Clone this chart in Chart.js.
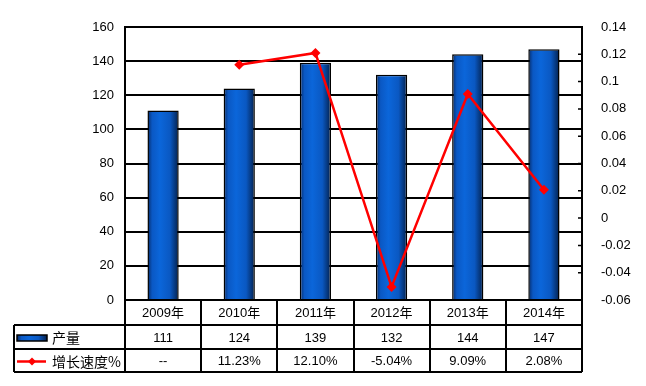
<!DOCTYPE html>
<html>
<head>
<meta charset="utf-8">
<script src="https://cdn.jsdelivr.net/npm/chart.js@4/dist/chart.umd.min.js"></script>
<style>
  html, body { margin: 0; padding: 0; background: #fff; }
  #wrap { width: 646px; height: 386px; }
</style>
</head>
<body>
<div id="wrap"><canvas id="myChart" width="646" height="386"></canvas></div>
<script>
// data
var years = ['2009年', '2010年', '2011年', '2012年', '2013年', '2014年'];
var output = [111, 124, 139, 132, 144, 147];
var growth = [null, 0.1123, 0.1210, -0.0504, 0.0909, 0.0208];
var leftTicks = [0, 20, 40, 60, 80, 100, 120, 140, 160];
var rightTicks = [-0.06, -0.04, -0.02, 0, 0.02, 0.04, 0.06, 0.08, 0.1, 0.12, 0.14];
var seriesNames = ['产量', '增长速度%'];

var numFont = '13px "Liberation Sans", Arial, sans-serif';
var cjkFont = '13px "Liberation Sans", "Noto Sans CJK SC", sans-serif';

function growthText(v) {
    return v === null ? '--' : (v * 100).toFixed(2) + '%';
}

function barGradient(ctx, x0, x1) {
    var g = ctx.createLinearGradient(x0, 0, x1, 0);
    g.addColorStop(0, '#062a66');
    g.addColorStop(0.15, '#0a58c4');
    g.addColorStop(0.4, '#0b66da');
    g.addColorStop(0.72, '#0a58c2');
    g.addColorStop(1, '#03204c');
    return g;
}

// draws the data table under the plot
var tablePlugin = {
    id: 'dataTable',
    afterDraw: function (chart) {
        var ctx = chart.ctx;
        var area = chart.chartArea;
        var n = years.length;
        var colW = (area.right - area.left) / n;
        var rowTop = [area.bottom, 325, 349, 372];
        var labelLeft = 14;

        ctx.save();
        ctx.strokeStyle = '#000';
        ctx.lineWidth = 2;

        // horizontal lines
        ctx.beginPath();
        ctx.moveTo(area.left, rowTop[0]); ctx.lineTo(area.right, rowTop[0]);
        for (var r = 1; r < rowTop.length; r++) {
            ctx.moveTo(labelLeft, rowTop[r]); ctx.lineTo(area.right, rowTop[r]);
        }
        // vertical lines
        for (var c = 0; c <= n; c++) {
            var x = Math.round(area.left + c * colW);
            ctx.moveTo(x, rowTop[0]); ctx.lineTo(x, rowTop[3]);
        }
        ctx.moveTo(labelLeft, rowTop[1]); ctx.lineTo(labelLeft, rowTop[3]);
        ctx.stroke();

        // right axis inner tick marks
        var y1 = chart.scales.y1;
        ctx.lineWidth = 1.5;
        ctx.beginPath();
        y1.ticks.forEach(function (t) {
            var yy = y1.getPixelForValue(t.value);
            ctx.moveTo(area.right - 4, yy); ctx.lineTo(area.right, yy);
        });
        ctx.stroke();

        // cell text
        ctx.fillStyle = '#000';
        ctx.textAlign = 'center';
        ctx.textBaseline = 'middle';
        var xs = chart.scales.x;
        for (var i = 0; i < n; i++) {
            var cx = xs.getPixelForValue(i);
            ctx.font = cjkFont;
            ctx.fillText(years[i], cx, (rowTop[0] + rowTop[1]) / 2 + 1);
            ctx.font = numFont;
            ctx.fillText(String(output[i]), cx, (rowTop[1] + rowTop[2]) / 2 + 1);
            ctx.fillText(growthText(growth[i]), cx, (rowTop[2] + rowTop[3]) / 2 + 1);
        }

        // legend keys in the label column
        var ky = (rowTop[1] + rowTop[2]) / 2 + 1;
        ctx.fillStyle = barGradient(ctx, 17, 47);
        ctx.fillRect(17, ky - 3, 30, 6);
        ctx.lineWidth = 1.5;
        ctx.strokeRect(17, ky - 3, 30, 6);

        var ly = (rowTop[2] + rowTop[3]) / 2 + 1;
        ctx.strokeStyle = '#ff0000';
        ctx.lineWidth = 2.5;
        ctx.beginPath();
        ctx.moveTo(17, ly); ctx.lineTo(46, ly);
        ctx.stroke();
        ctx.fillStyle = '#ff0000';
        ctx.beginPath();
        ctx.moveTo(32, ly - 4); ctx.lineTo(36, ly); ctx.lineTo(32, ly + 4); ctx.lineTo(28, ly);
        ctx.closePath();
        ctx.fill();

        ctx.fillStyle = '#000';
        ctx.textAlign = 'left';
        ctx.font = '14px "Noto Sans CJK SC", sans-serif';
        ctx.fillText(seriesNames[0], 52, ky);
        ctx.fillText(seriesNames[1], 52, ly);
        ctx.restore();
    }
};

window.onload = function () {
    var ctx = document.getElementById('myChart').getContext('2d');
    var myChart = new Chart(ctx, {
        data: {
            labels: years,
            datasets: [{
                type: 'line',
                label: seriesNames[1],
                data: growth,
                yAxisID: 'y1',
                borderColor: '#ff0000',
                backgroundColor: '#ff0000',
                borderWidth: 2.5,
                pointStyle: 'rectRot',
                pointRadius: 5,
                pointBorderWidth: 0,
                tension: 0,
                order: 0
            }, {
                type: 'bar',
                label: seriesNames[0],
                data: output,
                yAxisID: 'y',
                borderColor: '#000',
                borderWidth: 1.5,
                categoryPercentage: 1,
                barPercentage: 0.41,
                backgroundColor: function (c) {
                    var chart = c.chart;
                    if (!chart.chartArea) return '#0b62d2';
                    var xs = chart.scales.x;
                    var cx = xs.getPixelForValue(c.dataIndex);
                    var w = (xs.right - xs.left) / years.length * 0.41;
                    return barGradient(chart.ctx, cx - w / 2, cx + w / 2);
                },
                order: 1
            }]
        },
        options: {
            responsive: false,
            animation: false,
            layout: { padding: { top: 27, bottom: 86, left: 0, right: 0 } },
            plugins: {
                legend: { display: false },
                tooltip: { enabled: false }
            },
            scales: {
                x: {
                    display: false,
                    offset: true,
                    grid: { display: false }
                },
                y: {
                    position: 'left',
                    min: 0,
                    max: 160,
                    afterBuildTicks: function (s) {
                        s.ticks = leftTicks.map(function (v) { return { value: v }; });
                    },
                    afterFit: function (s) { s.width = 125; },
                    grid: { color: '#000', lineWidth: 2, drawTicks: false },
                    border: { color: '#000', width: 2 },
                    ticks: { color: '#000', font: { family: '"Liberation Sans", Arial', size: 13 }, padding: 11 }
                },
                y1: {
                    position: 'right',
                    min: -0.06,
                    max: 0.14,
                    afterBuildTicks: function (s) {
                        s.ticks = rightTicks.map(function (v) { return { value: v }; });
                    },
                    afterFit: function (s) { s.width = 64; },
                    grid: { display: false },
                    border: { color: '#000', width: 2 },
                    ticks: {
                        color: '#000',
                        font: { family: '"Liberation Sans", Arial', size: 13 },
                        padding: 11,
                        callback: function (v) { return String(parseFloat(Number(v).toFixed(2))); }
                    }
                }
            }
        },
        plugins: [tablePlugin]
    });
};
</script>
</body>
</html>
